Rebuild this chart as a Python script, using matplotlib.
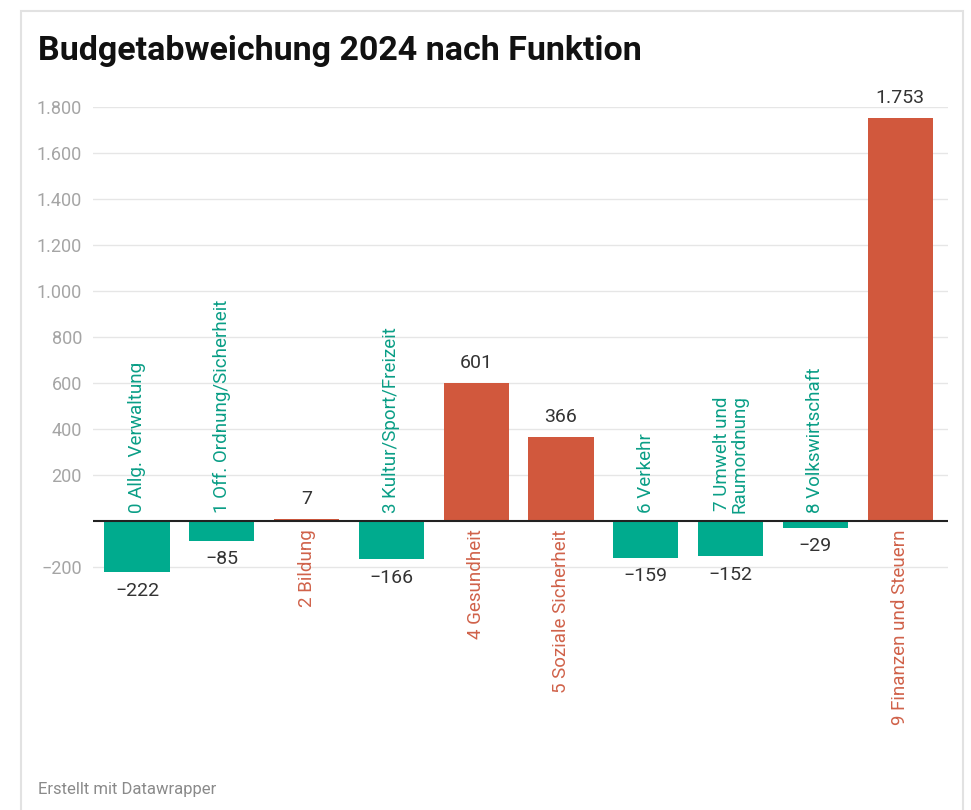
import matplotlib
matplotlib.use("Agg")
import matplotlib.pyplot as plt
from matplotlib.patches import Rectangle

plt.rcParams["font.family"] = ["Roboto", "DejaVu Sans"]

categories = [
    "0 Allg. Verwaltung",
    "1 Off. Ordnung/Sicherheit",
    "2 Bildung",
    "3 Kultur/Sport/Freizeit",
    "4 Gesundheit",
    "5 Soziale Sicherheit",
    "6 Verkehr",
    "7 Umwelt und\nRaumordnung",
    "8 Volkswirtschaft",
    "9 Finanzen und Steuern",
]
values = [-222, -85, 7, -166, 601, 366, -159, -152, -29, 1753]
yticks = [-200, 200, 400, 600, 800, 1000, 1200, 1400, 1600, 1800]

TEAL = "#00ab8e"
RED = "#d1583d"
TEAL_TXT = "#0a9e86"
RED_TXT = "#d0624a"

W, H = 971, 810
YMIN, YMAX = -260, 1800
PX_PER_UNIT = (567 - 107) / 2000


def fmt(v):
    s = f"{abs(v):,}".replace(",", ".")
    return ("\u2212" + s) if v < 0 else s


fig = plt.figure(figsize=(W / 100, H / 100), dpi=100)

# card border
fig.add_artist(Rectangle((21 / W, -0.05), (963 - 21) / W, (H - 11) / H + 0.05,
                         transform=fig.transFigure, facecolor="white",
                         edgecolor="#e2e2e2", lw=1.5, zorder=-1))

bottom_px = 107 + (YMAX - YMIN) * PX_PER_UNIT
ax = fig.add_axes([93 / W, (H - bottom_px) / H, (948 - 93) / W, (bottom_px - 107) / H])
x = list(range(len(values)))
colors = [RED if v > 0 else TEAL for v in values]
ax.bar(x, values, width=0.77, color=colors, zorder=2)

ax.set_xlim(-0.519, 9.564)
ax.set_ylim(YMIN, YMAX)
ax.set_yticks(yticks)
ax.set_yticklabels([fmt(t) for t in yticks])
ax.tick_params(axis="y", length=0, pad=8, labelsize=13, labelcolor="#a5a5a5")
ax.set_xticks([])
ax.grid(axis="y", color="#e6e6e6", lw=1, zorder=0)
for s in ax.spines.values():
    s.set_visible(False)
ax.axhline(0, color="#222222", lw=1.5, zorder=3)

for xi, v, cat in zip(x, values, categories):
    if v < 0:
        ax.annotate(fmt(v), (xi, v), xytext=(0, -7), textcoords="offset points",
                    ha="center", va="top", fontsize=14, color="#333333",
                    annotation_clip=False)
        ax.annotate(cat, (xi, 0), xytext=(0, 6), textcoords="offset points",
                    ha="center", va="bottom", rotation=90, fontsize=13.5,
                    color=TEAL_TXT, linespacing=1.0, annotation_clip=False)
    else:
        ax.annotate(fmt(v), (xi, v), xytext=(0, 8), textcoords="offset points",
                    ha="center", va="bottom", fontsize=14, color="#333333",
                    annotation_clip=False)
        ax.annotate(cat, (xi, 0), xytext=(0, -6), textcoords="offset points",
                    ha="center", va="top", rotation=90, fontsize=13.5,
                    color=RED_TXT, annotation_clip=False)

fig.text(38 / W, 1 - 60 / H, "Budgetabweichung 2024 nach Funktion",
         fontsize=24.5, fontweight="bold", color="#111111", ha="left", va="baseline")
fig.text(38 / W, 1 - 794 / H, "Erstellt mit Datawrapper",
         fontsize=12, color="#8a8a8a", ha="left", va="baseline")

fig.savefig("out.png", dpi=100)
